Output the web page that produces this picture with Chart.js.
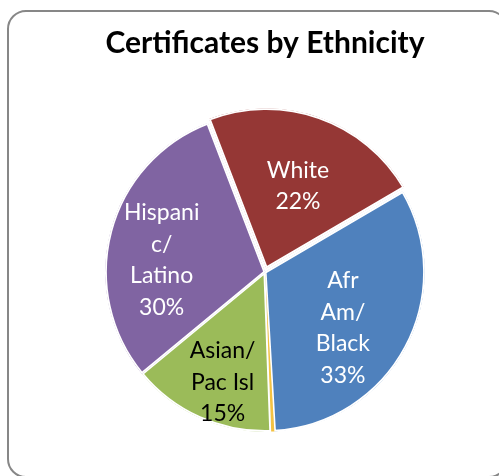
<!DOCTYPE html>
<html><head><meta charset="utf-8">
<script src="https://cdn.jsdelivr.net/npm/chart.js@4"></script>
<style>
html,body{margin:0;padding:0;background:#fff;overflow:hidden;width:499px;height:476px;}
#frame{position:absolute;left:7px;top:10px;width:497px;height:464px;border:2px solid #878787;border-radius:19px;}
#wrap{position:absolute;left:0;top:0;width:499px;height:476px;}
</style></head><body>
<div id="frame"></div>
<div id="wrap"><canvas id="c" width="499" height="476"></canvas></div>
<script>
const categories = ['White', 'Afr Am/Black', 'Other', 'Asian/Pac Isl', 'Hispanic/Latino'];
const labelLines = [['White'], ['Afr', 'Am/', 'Black'], [], ['Asian/', 'Pac Isl'], ['Hispani', 'c/', 'Latino']];
const values = [22.4, 32.5, 0.35, 14.6, 30.15];
const colors = ['#953735', '#4F81BD', '#F4C242', '#9BBB59', '#8064A2'];
const labelColors = ['#ffffff', '#ffffff', '#000000', '#000000', '#ffffff'];

const sliceLabels = {
  id: 'sliceLabels',
  afterDatasetsDraw(chart, args, opts) {
    const ctx = chart.ctx;
    const meta = chart.getDatasetMeta(0);
    const total = values.reduce((a, b) => a + b, 0);
    ctx.save();
    ctx.font = opts.font;
    ctx.textAlign = 'center';
    ctx.textBaseline = 'middle';
    meta.data.forEach((arc, i) => {
      const pct = Math.round(values[i] / total * 100);
      if (pct < 1) return;
      const lines = labelLines[i].concat([pct + '%']);
      const p = arc.getProps(['x', 'y', 'startAngle', 'endAngle', 'outerRadius'], true);
      const mid = (p.startAngle + p.endAngle) / 2 + opts.angleShift[i] * Math.PI / 180;
      const r = p.outerRadius * opts.radial[i];
      const cx = p.x + Math.cos(mid) * r, cy = p.y + Math.sin(mid) * r;
      const lh = opts.lineHeight;
      const top = cy - (lines.length - 1) * lh / 2;
      ctx.fillStyle = labelColors[i];
      lines.forEach((t, k) => ctx.fillText(t, cx, top + k * lh));
    });
    ctx.restore();
  }
};

new Chart(document.getElementById('c'), {
  type: 'pie',
  data: {
    labels: categories,
    datasets: [{
      data: values,
      backgroundColor: colors,
      borderColor: '#ffffff',
      borderWidth: [1.6, 1.6, 0, 1.6, 1.6],
      borderAlign: 'inner',
      offset: [16, 0, 0, 0, 0],
      hoverOffset: 0
    }]
  },
  options: {
    responsive: false,
    animation: false,
    rotation: -21,
    radius: 160,
    layout: { padding: { left: 31, right: 0, top: 0, bottom: 32 } },
    plugins: {
      legend: { display: false },
      tooltip: { enabled: false },
      title: {
        display: true,
        text: 'Certificates by Ethnicity',
        color: '#000000',
        font: { family: 'Lato', size: 30, weight: 'bold' },
        padding: { top: 25, bottom: 39 }
      },
      sliceLabels: {
        font: '23px Lato',
        lineHeight: 31.5,
        angleShift: [1.7, 7.6, 0, -3.2, -8.2],
        radial: [0.575, 0.6, 0, 0.74, 0.65]
      }
    }
  },
  plugins: [sliceLabels]
});
</script>
</body></html>
